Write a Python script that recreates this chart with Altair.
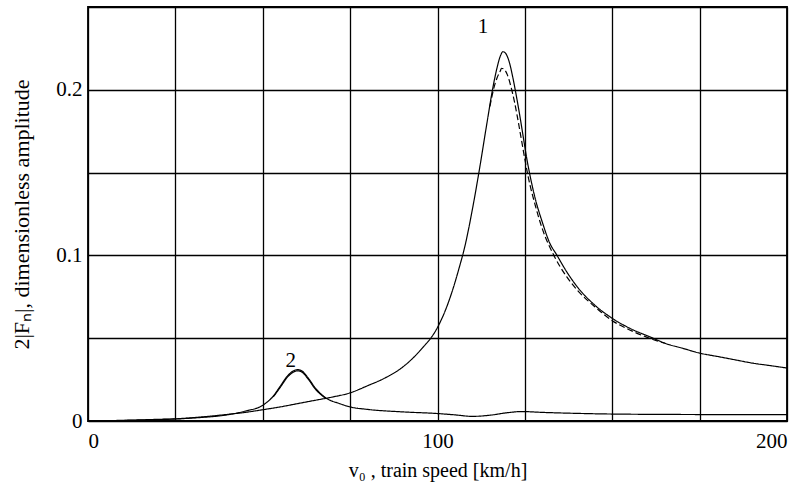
import altair as alt
import pandas as pd

# Curve 1 (solid)
v1 = [0, 10, 20, 25, 30, 40, 45, 50, 55, 60, 65, 70, 75, 80, 85, 90, 95, 100, 102, 104, 106, 108, 110,
      112, 114, 116, 117, 118, 118.7, 119.5, 120.5, 121.5, 122.5, 123.5, 124.5, 125.5, 126.5, 128, 130,
      132, 134.2, 137, 140, 145, 150, 155, 161.7, 165, 170, 175, 180, 185, 190, 195, 200]
a1 = [0.0, 0.0004, 0.001, 0.0013, 0.002, 0.004, 0.0052, 0.0068, 0.0085, 0.0105, 0.0125, 0.0145, 0.017,
      0.0213, 0.026, 0.0325, 0.0425, 0.0565, 0.0655, 0.077, 0.091, 0.107, 0.128,
      0.152, 0.178, 0.203, 0.213, 0.2205, 0.223, 0.222, 0.217, 0.208, 0.197, 0.185, 0.172, 0.159, 0.148, 0.134, 0.12,
      0.108, 0.1, 0.09, 0.081, 0.07, 0.062, 0.056, 0.05, 0.047, 0.044, 0.041, 0.039, 0.037, 0.035, 0.0335, 0.032]

# Curve 1 (dashed)
v1d = [115, 116, 117, 118, 118.3, 119, 120, 121, 122, 123, 124, 125, 126, 128, 130, 133.3, 137, 140, 145, 150, 155, 160, 165]
a1d = [0.19, 0.2, 0.207, 0.2115, 0.213, 0.2125, 0.209, 0.202, 0.193, 0.182, 0.17, 0.158, 0.147, 0.13, 0.116, 0.1,
       0.087, 0.079, 0.069, 0.0606, 0.055, 0.0505, 0.047]

# Curve 2
v2 = [0, 10, 20, 30, 40, 45, 50, 53, 55, 57, 59, 60, 61, 63, 65, 68, 72, 75, 80, 90, 100, 105, 110,
      115, 120, 124, 130, 140, 150, 175, 200]
a2 = [0.0, 0.0003, 0.0008, 0.0018, 0.0038, 0.006, 0.0095, 0.015, 0.021, 0.027, 0.0305, 0.031, 0.0305,
      0.026, 0.02, 0.014, 0.0105, 0.0085, 0.007, 0.0055, 0.0045, 0.0037, 0.0028,
      0.0035, 0.005, 0.0057, 0.0052, 0.0046, 0.0042, 0.0039, 0.0038]

# Curve 2 (second, nearly coincident line)
v2b = [53, 55, 57, 59, 60, 61, 63, 65, 68]
a2b = [0.0145, 0.0203, 0.0263, 0.0298, 0.0303, 0.0298, 0.0253, 0.0194, 0.0137]

# Annotations
lab_text = ["1", "2"]
lab_v = [113.0, 58.0]
lab_a = [0.238, 0.0365]

x_grid = [0, 25, 50, 75, 100, 125, 150, 175, 200]
y_grid = [0, 0.05, 0.1, 0.15, 0.2, 0.25]

rows = []
for s, vs, as_ in [("1", v1, a1), ("1d", v1d, a1d), ("2", v2, a2), ("2b", v2b, a2b)]:
    for v, a in zip(vs, as_):
        rows.append({"v": v, "a": a, "series": s})
df = pd.DataFrame(rows)
lab_df = pd.DataFrame({"t": lab_text, "v": lab_v, "a": lab_a})

FONT = "Liberation Serif"

x_enc = alt.X("v:Q", scale=alt.Scale(domain=[0, 200], nice=False, zero=False),
              axis=alt.Axis(values=x_grid, grid=True, gridColor="black", gridWidth=1.3, gridOpacity=1,
                            ticks=False, domain=False, format="d",
                            labelExpr="datum.value % 100 == 0 ? datum.label : ''",
                            labelFont=FONT, labelFontSize=21, labelColor="black", labelPadding=9,
                            title="v₀ , train speed [km/h]", titleFont=FONT, titleFontSize=20,
                            titleFontWeight="normal", titleColor="black", titlePadding=9))
y_enc = alt.Y("a:Q", scale=alt.Scale(domain=[0, 0.25], nice=False, zero=False),
              axis=alt.Axis(values=y_grid, grid=True, gridColor="black", gridWidth=1.3, gridOpacity=1,
                            ticks=False, domain=False, format="~g",
                            labelExpr="round(datum.value * 20) % 2 == 0 ? datum.label : ''",
                            labelFont=FONT, labelFontSize=21, labelColor="black", labelPadding=6,
                            title="2|Fₙ|, dimensionless amplitude", titleFont=FONT, titleFontSize=22,
                            titleFontWeight="normal", titleColor="black", titlePadding=22))

lines = alt.Chart(df).mark_line(color="black", strokeWidth=1.2, interpolate="monotone").encode(
    x=x_enc, y=y_enc,
    detail="series:N",
    strokeDash=alt.StrokeDash("series:N", scale=alt.Scale(domain=["1", "1d", "2", "2b"],
                                                          range=[[1, 0], [6, 3], [1, 0], [1, 0]]),
                              legend=None),
)

labels = alt.Chart(lab_df).mark_text(font=FONT, fontSize=21, color="black").encode(
    x="v:Q", y="a:Q", text="t:N")

chart = alt.layer(lines, labels).properties(
    width=699, height=414,
    autosize=alt.AutoSizeParams(type="none"),
    padding={"left": 88, "top": 7, "right": 16, "bottom": 77},
    background="white",
).configure_view(stroke="black", strokeWidth=1.8)

chart.save("out.html", embed_options={"renderer": "svg", "actions": False})
